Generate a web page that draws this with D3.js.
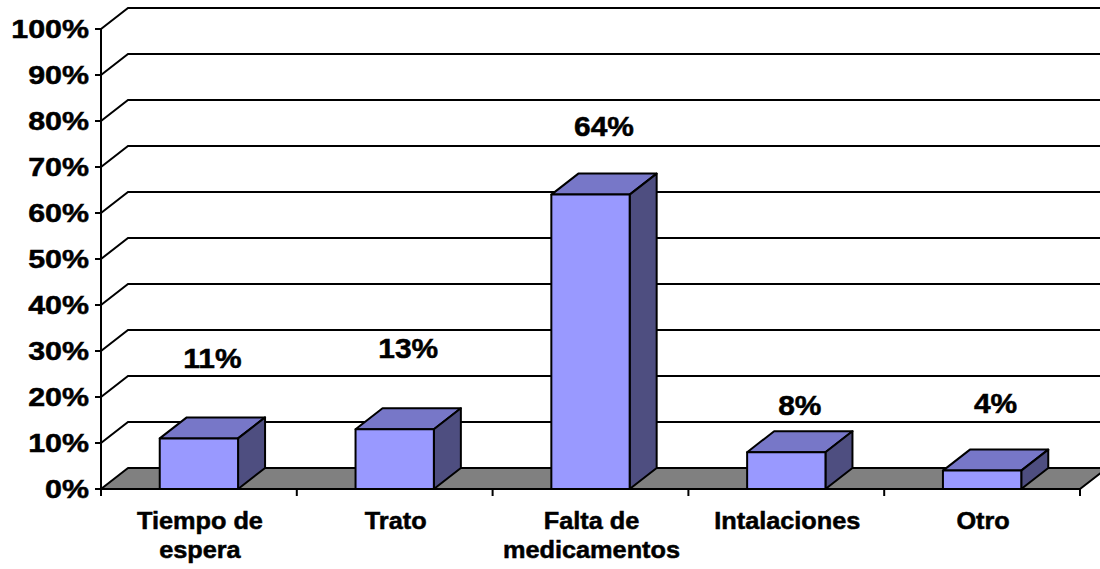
<!DOCTYPE html>
<html>
<head>
<meta charset="utf-8">
<script src="https://cdn.jsdelivr.net/npm/d3@7"></script>
<style>
  html, body { margin: 0; padding: 0; background: #fff; }
  svg { display: block; font-family: "Liberation Sans", Arial, sans-serif; font-weight: bold; }
  text { stroke: #000; stroke-width: 0.5px; }
</style>
</head>
<body>
<svg id="chart" width="1100" height="569"></svg>
<script>
// ——— data ————————————————————————————————
const categories = [["Tiempo de", "espera"], ["Trato"], ["Falta de", "medicamentos"], ["Intalaciones"], ["Otro"]];
const values     = [11, 13, 64, 8, 4];            // percent
const labelLevel = [26.3, 28.5, 76.7, 16.1, 16.5]; // where each data label sits, in percent
const yTicks     = [0, 10, 20, 30, 40, 50, 60, 70, 80, 90, 100];

// ——— layout ——————————————————————————————
const W = 1100, H = 569;
const depth = {dx: 27, dy: -21};
const svg = d3.select("#chart");

const x = d3.scaleBand(d3.range(values.length), [101, 1080]).paddingInner(0).paddingOuter(0);
const y = d3.scaleLinear([0, 100], [489, 29]);
const barW = x.bandwidth() * 0.4;

const colors = {front: "#9999FF", top: "#7777C8", side: "#4E4E80", floor: "#808080"};

// stretched text helper (the source chart has horizontally widened type)
function stretchText(g, px, py, sx, size, anchor, txt){
  return g.append("text")
    .attr("transform", `translate(${px},${py}) scale(${sx},1)`)
    .attr("font-size", size)
    .attr("text-anchor", anchor)
    .text(txt);
}

// ——— back wall gridlines + left wall diagonals ———
const grid = svg.append("g").attr("stroke", "#000").attr("stroke-width", 2).attr("fill", "none");
grid.selectAll("path.grid").data(yTicks.filter(t => t > 0)).join("path")
  .attr("class", "grid")
  .attr("d", t => `M${x.range()[0]},${y(t)} L${x.range()[0] + depth.dx},${y(t) + depth.dy} L${W + 5},${y(t) + depth.dy}`);

// ——— floor ———————————————————————————————
const [fx0, fx1] = x.range();
svg.append("path")
  .attr("d", `M${fx0},${y(0)} L${fx1},${y(0)} L${fx1 + depth.dx},${y(0) + depth.dy} L${fx0 + depth.dx},${y(0) + depth.dy} Z`)
  .attr("fill", colors.floor)
  .attr("stroke", "#000")
  .attr("stroke-width", 2)
  .attr("stroke-linejoin", "round");

// ——— bars ————————————————————————————————
const bars = svg.append("g").attr("stroke", "#000").attr("stroke-width", 2).attr("stroke-linejoin", "round");
values.forEach((v, i) => {
  const cx = x(i) + x.bandwidth() / 2;
  const x0 = cx - barW / 2, x1 = cx + barW / 2;
  const yt = y(v), yb = y(0);
  const g = bars.append("g");
  g.append("path") // top
    .attr("fill", colors.top)
    .attr("d", `M${x0},${yt} L${x1},${yt} L${x1 + depth.dx},${yt + depth.dy} L${x0 + depth.dx},${yt + depth.dy} Z`);
  g.append("path") // side
    .attr("fill", colors.side)
    .attr("d", `M${x1},${yt} L${x1 + depth.dx},${yt + depth.dy} L${x1 + depth.dx},${yb + depth.dy} L${x1},${yb} Z`);
  g.append("rect") // front
    .attr("fill", colors.front)
    .attr("x", x0).attr("y", yt)
    .attr("width", barW).attr("height", yb - yt);
});

// ——— axes ————————————————————————————————
const axes = svg.append("g").attr("stroke", "#000").attr("stroke-width", 2).attr("fill", "none");
axes.append("line").attr("x1", fx0).attr("x2", fx0).attr("y1", y(100)).attr("y2", y(0));
axes.append("line").attr("x1", fx0 - 1).attr("x2", fx1).attr("y1", y(0)).attr("y2", y(0));
axes.selectAll("line.yt").data(yTicks).join("line")
  .attr("class", "yt")
  .attr("x1", fx0 - 6).attr("x2", fx0).attr("y1", d => y(d)).attr("y2", d => y(d));
const xBounds = d3.range(values.length).map(i => x(i)).concat([fx1]);
axes.selectAll("line.xt").data(xBounds).join("line")
  .attr("class", "xt")
  .attr("x1", d => d).attr("x2", d => d).attr("y1", y(0)).attr("y2", y(0) + 7);

// ——— y tick labels ————————————————————————
const yLab = svg.append("g").attr("fill", "#000");
yTicks.forEach(t => stretchText(yLab, 89, y(t) + 9, 1.17, 26, "end", `${t}%`));

// ——— category labels ——————————————————————
const xLab = svg.append("g").attr("fill", "#000");
categories.forEach((lines, i) => {
  const cx = x(i) + x.bandwidth() / 2;
  lines.forEach((ln, k) => stretchText(xLab, cx + 1, 529 + k * 29, 1.1, 23, "middle", ln));
});

// ——— data labels —————————————————————————
const dLab = svg.append("g").attr("fill", "#000");
values.forEach((v, i) => {
  const cx = x(i) + x.bandwidth() / 2 + depth.dx / 2;
  stretchText(dLab, cx, y(labelLevel[i]), 1.07, 28, "middle", `${v}%`);
});
</script>
</body>
</html>
